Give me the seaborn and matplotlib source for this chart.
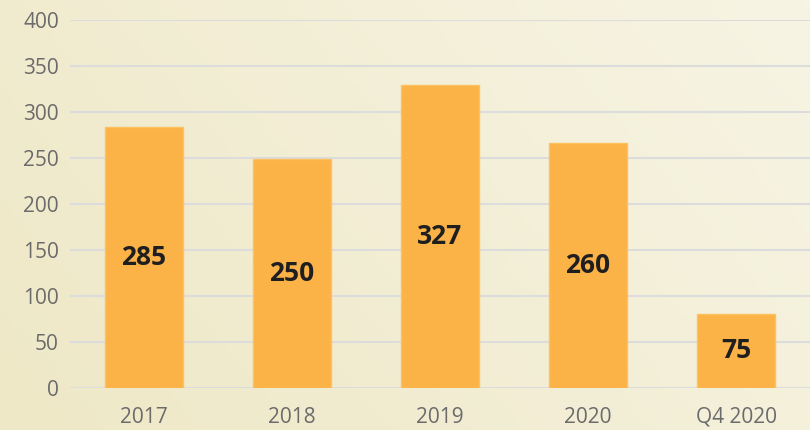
import numpy as np
import pandas as pd
import matplotlib.pyplot as plt
import seaborn as sns

# data
years = ["2017", "2018", "2019", "2020", "Q4 2020"]
heights = [283, 248, 329, 266, 80]
labels = ["285", "250", "327", "260", "75"]
y_ticks = [0, 50, 100, 150, 200, 250, 300, 350, 400]

df = pd.DataFrame({"year": years, "value": heights})

sns.set_theme(style="white")
plt.rcParams["font.family"] = ["Open Sans", "DejaVu Sans"]

fig = plt.figure(figsize=(8.1, 4.3), dpi=100)

# pale yellow gradient background
bg = fig.add_axes([0, 0, 1, 1], zorder=-10)
gx = np.linspace(0, 1, 200)
gy = np.linspace(0, 1, 100)
X, Y = np.meshgrid(gx, gy)
grad = 0.55 * X + 0.25 * (1 - Y)
cmap = sns.blend_palette(["#eee8c6", "#f7f4e4"], as_cmap=True)
bg.imshow(grad, cmap=cmap, aspect="auto", extent=[0, 1, 0, 1], vmin=0, vmax=0.8)
bg.axis("off")

ax = fig.add_axes([70 / 810, 1 - 387.5 / 430, 740 / 810, 368 / 430])
ax.set_facecolor("none")

sns.barplot(data=df, x="year", y="value", color="#fbb347", saturation=1,
            width=0.53, edgecolor="#fbc25e", linewidth=1, ax=ax, zorder=3)

ax.bar_label(ax.containers[0], labels=labels, label_type="center",
             fontsize=19, fontweight="bold", color="#1f1f1f")

ax.set_ylim(0, 400)
ax.set_xlim(-0.5, 4.5)
ax.set_yticks(y_ticks)
ax.yaxis.grid(True, color="#dcdcdc", linewidth=1.5, zorder=0)
ax.set_axisbelow(True)
for s in ax.spines.values():
    s.set_visible(False)
ax.tick_params(axis="y", length=0, pad=8, labelsize=15, labelcolor="#6b6b6b")
ax.tick_params(axis="x", length=0, pad=14, labelsize=15, labelcolor="#6b6b6b")
ax.set_xlabel("")
ax.set_ylabel("")

fig.savefig("out.png", dpi=100)
